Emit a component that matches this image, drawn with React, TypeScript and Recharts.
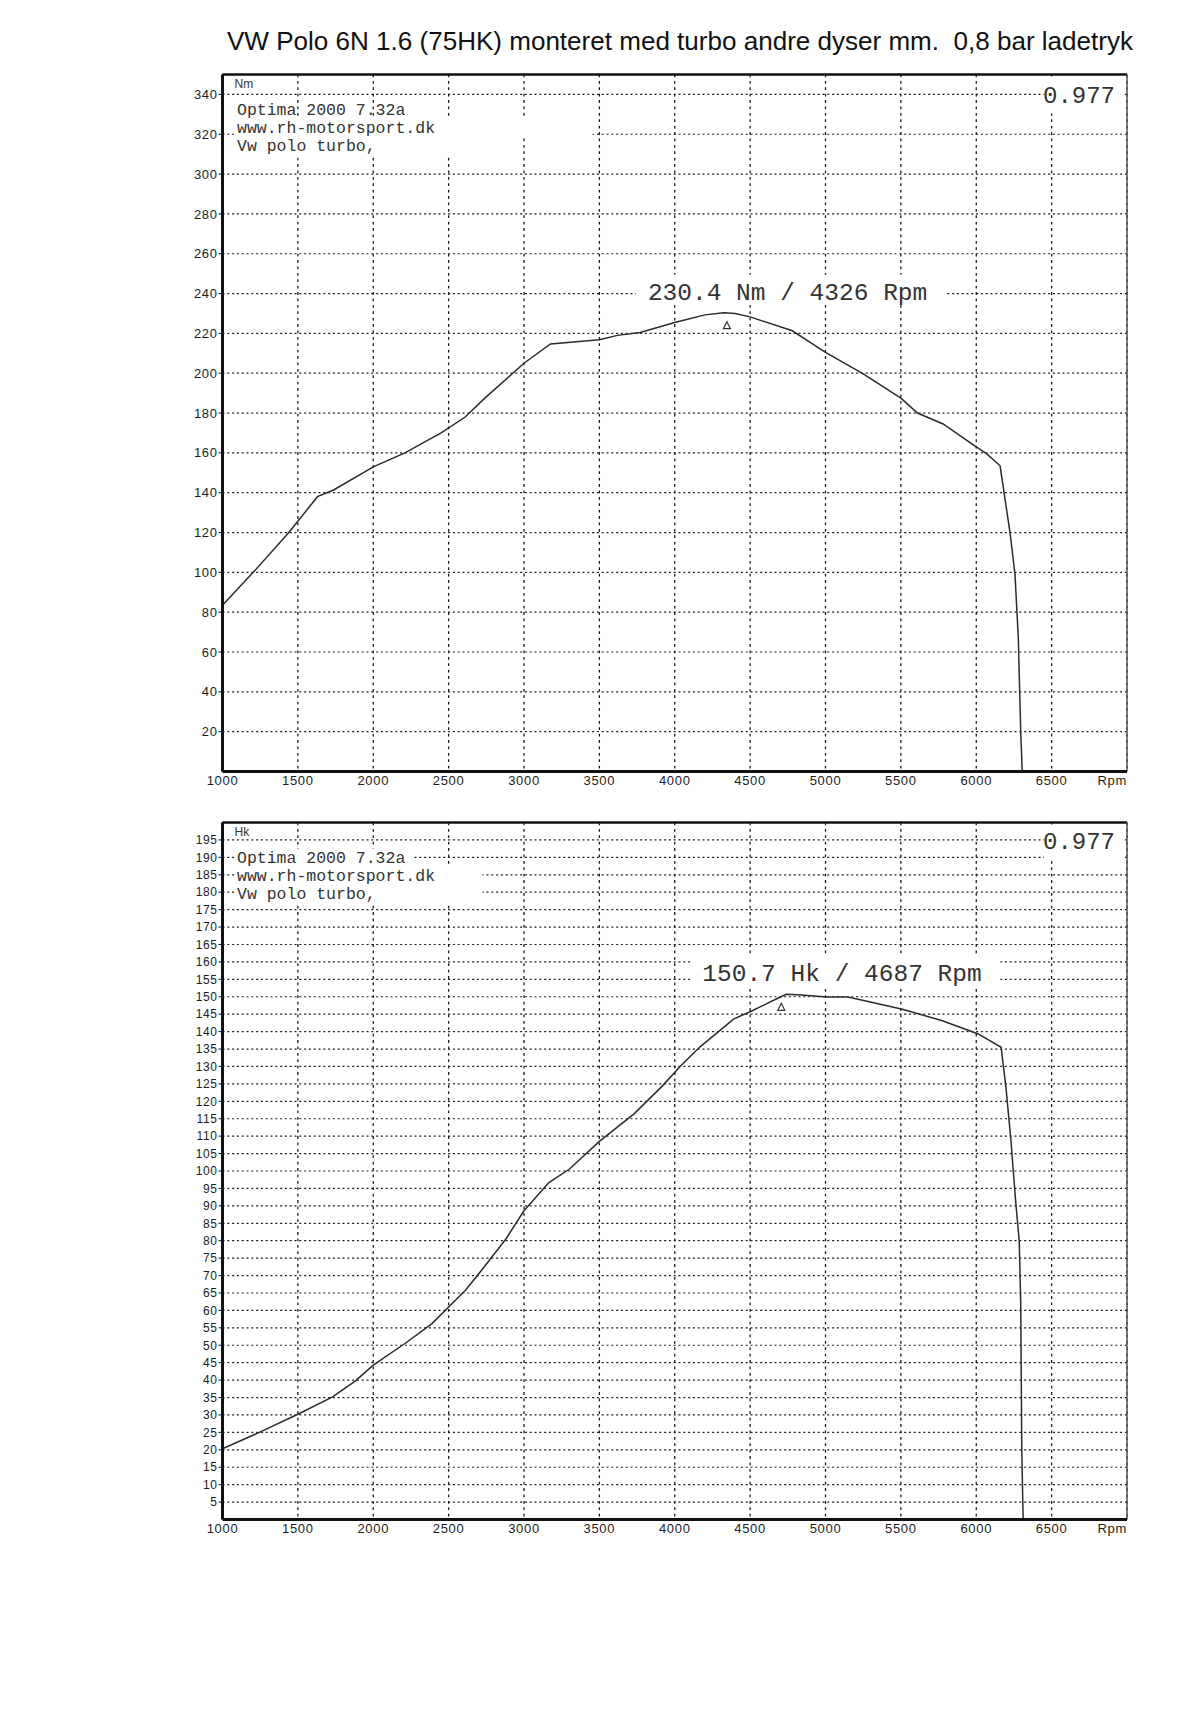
import React from 'react'
import {
  LineChart,
  Line,
  XAxis,
  YAxis,
  CartesianGrid,
  ReferenceLine,
  ReferenceDot,
} from 'recharts'

// values
const RPM_TICKS = [1000, 1500, 2000, 2500, 3000, 3500, 4000, 4500, 5000, 5500, 6000, 6500, 7000]
const NM_TICKS = [20, 40, 60, 80, 100, 120, 140, 160, 180, 200, 220, 240, 260, 280, 300, 320, 340]
const HK_TICKS = [
  5, 10, 15, 20, 25, 30, 35, 40, 45, 50, 55, 60, 65, 70, 75, 80, 85, 90, 95, 100,
  105, 110, 115, 120, 125, 130, 135, 140, 145, 150, 155, 160, 165, 170, 175, 180, 185, 190, 195,
]

const TORQUE_RPM = [
  1000, 1210, 1440, 1630, 1740, 2000, 2210, 2450, 2610, 2740, 3000, 3175, 3500, 3620, 3770,
  4000, 4200, 4326, 4400, 4500, 4780, 5000, 5250, 5500, 5610, 5780, 6000, 6070, 6158, 6224,
  6257, 6279, 6295, 6305,
]
const TORQUE_NM = [
  83.5, 100.5, 120, 138, 141.5, 153, 160, 170, 178, 187.5, 205, 214.7, 216.8, 219, 220.5,
  225.5, 229.3, 230.4, 230, 228.3, 221.3, 210.5, 199.7, 187.5, 180, 174.5, 163, 159.5, 153.5, 120,
  99, 67, 20, 0,
]

const POWER_RPM = [
  1000, 1230, 1500, 1730, 1880, 2000, 2210, 2390, 2500, 2610, 2700, 2880, 3000, 3165, 3300,
  3500, 3730, 3920, 4040, 4170, 4390, 4510, 4680, 4740, 4840, 5010, 5150, 5510, 5770, 6010,
  6165, 6197, 6230, 6262, 6285, 6295, 6302, 6311,
]
const POWER_HK = [
  20.3, 24.7, 30.2, 35.2, 39.7, 44.3, 50.5, 56.2, 61, 65.7, 70.5, 80.5, 88.6, 96.7, 100.5,
  108.5, 116.4, 124.5, 130.2, 135.7, 143.6, 145.9, 149.5, 150.7, 150.5, 149.9, 149.9, 146.4, 143.2, 139.4,
  135.5, 124, 108.8, 91, 80, 62, 20, 0,
]

const TITLE = 'VW Polo 6N 1.6 (75HK) monteret med turbo andre dyser mm.  0,8 bar ladetryk'
const HEADER_LINES = ['Optima 2000 7.32a', 'www.rh-motorsport.dk', 'Vw polo turbo,']
const CORRECTION = '0.977'
const TORQUE_PEAK = { rpm: 4326, value: 230.4, label: '230.4 Nm / 4326 Rpm' }
const POWER_PEAK = { rpm: 4687, value: 150.7, label: '150.7 Hk / 4687 Rpm' }

const INK = '#1c1c1c'
const MONO = '"Liberation Mono", "DejaVu Sans Mono", monospace'
const SANS = '"Liberation Sans", Arial, sans-serif'

const torqueData = TORQUE_RPM.map((rpm, i) => ({ rpm, value: TORQUE_NM[i] }))
const powerData = POWER_RPM.map((rpm, i) => ({ rpm, value: POWER_HK[i] }))

const RpmTick = ({ x, y, payload }: any) => {
  const last = payload.value === 7000
  return (
    <text
      x={x}
      y={y}
      dy="0.75em"
      textAnchor={last ? 'end' : 'middle'}
      fontFamily={SANS}
      fontSize={13}
      letterSpacing={0.7}
      fill={INK}
    >
      {last ? 'Rpm' : payload.value}
    </text>
  )
}

// unit + the three program lines in the top left corner
const Header = ({ cx, cy, unit, boxes }: any) => (
  <g>
    <text x={cx + 12} y={cy + 13} fontFamily={SANS} fontSize={12} fill="#333">
      {unit}
    </text>
    {HEADER_LINES.map((line, i) => {
      const base = cy + 40 + i * 18
      return (
        <g key={i}>
          {boxes[i] > 0 && (
            <rect x={cx + 12} y={base - 14} width={boxes[i]} height={19} fill="#fff" />
          )}
          <text x={cx + 14.5} y={base} fontFamily={MONO} fontSize={16.5} fill="#333">
            {line}
          </text>
        </g>
      )
    })}
  </g>
)

const Correction = ({ cx, cy, plotTop }: any) => (
  <g>
    <rect x={cx - 83} y={plotTop + 2} width={78} height={cy - plotTop + 17} fill="#fff" />
    <text x={cx - 12} y={cy + 9} textAnchor="end" fontFamily={MONO} fontSize={24} fill="#333">
      {CORRECTION}
    </text>
  </g>
)

const PeakMark = ({ cx, cy, label }: any) => (
  <g>
    <rect x={cx - 88} y={cy - 38} width={310} height={30} fill="#fff" />
    <text x={cx - 76} y={cy - 13} fontFamily={MONO} fontSize={24.5} fill="#333">
      {label}
    </text>
    <path d={`M${cx + 3} ${cy + 9} l3.5 7 h-7 z`} fill="none" stroke="#333" strokeWidth={1.2} />
  </g>
)

function DynoChart({ data, unit, yMax, yTicks, tickFont, peak, boxes, top }: any) {
  const plotTop = 74.5
  return (
    <div style={{ position: 'absolute', left: 0, top, width: 1200, height: 800 }}>
      <LineChart
        width={1200}
        height={800}
        data={data}
        margin={{ top: plotTop, right: 73, bottom: 0, left: 162.5 }}
      >
        <CartesianGrid vertical={false} stroke={INK} strokeWidth={1.2} strokeDasharray="2 2.8" />
        <CartesianGrid horizontal={false} stroke={INK} strokeWidth={1.3} strokeDasharray="2.8 3.6" />
        <XAxis
          dataKey="rpm"
          type="number"
          domain={[1000, 7000]}
          ticks={RPM_TICKS}
          interval={0}
          height={28.5}
          tickSize={0}
          tickMargin={4}
          tickLine={false}
          axisLine={{ stroke: '#111', strokeWidth: 3 }}
          tick={<RpmTick />}
        />
        <YAxis
          type="number"
          domain={[0, yMax]}
          ticks={yTicks}
          interval={0}
          width={60}
          tickSize={4}
          tickMargin={1}
          tickLine={{ stroke: '#111' }}
          axisLine={{ stroke: '#111', strokeWidth: 3 }}
          tick={{ fontFamily: SANS, fontSize: tickFont, fill: INK, letterSpacing: 0.6 }}
        />
        <ReferenceLine y={yMax} stroke="#111" strokeWidth={2.5} ifOverflow="visible" />
        <ReferenceLine x={7000} stroke="#555" strokeWidth={1.5} ifOverflow="visible" />
        <Line
          type="linear"
          dataKey="value"
          stroke="#2b2b2b"
          strokeWidth={1.5}
          dot={false}
          activeDot={false}
          isAnimationActive={false}
        />
        <ReferenceDot
          x={1000}
          y={yMax}
          ifOverflow="visible"
          shape={(p: any) => <Header cx={p.cx} cy={p.cy} unit={unit} boxes={boxes} />}
        />
        <ReferenceDot
          x={7000}
          y={yTicks[yTicks.length - 1]}
          ifOverflow="visible"
          shape={(p: any) => <Correction cx={p.cx} cy={p.cy} plotTop={plotTop} />}
        />
        <ReferenceDot
          x={peak.rpm}
          y={peak.value}
          ifOverflow="visible"
          shape={(p: any) => <PeakMark cx={p.cx} cy={p.cy} label={peak.label} />}
        />
      </LineChart>
    </div>
  )
}

export default function App() {
  return (
    <div
      style={{
        position: 'absolute',
        left: 0,
        top: 0,
        width: 1200,
        height: 1718,
        background: '#fff',
        overflow: 'hidden',
      }}
    >
      <DynoChart
        data={torqueData}
        unit="Nm"
        yMax={350}
        yTicks={NM_TICKS}
        tickFont={13}
        peak={TORQUE_PEAK}
        boxes={[0, 358, 223]}
        top={0}
      />
      <DynoChart
        data={powerData}
        unit="Hk"
        yMax={200}
        yTicks={HK_TICKS}
        tickFont={12}
        peak={POWER_PEAK}
        boxes={[178, 248, 248]}
        top={747.5}
      />
      <svg width={1200} height={70} style={{ position: 'absolute', left: 0, top: 0 }}>
        <text
          x={227}
          y={50}
          textLength={906}
          lengthAdjust="spacingAndGlyphs"
          fontFamily={SANS}
          fontSize={25}
          fill="#111"
          style={{ whiteSpace: 'pre' }}
        >
          {TITLE}
        </text>
      </svg>
    </div>
  )
}
